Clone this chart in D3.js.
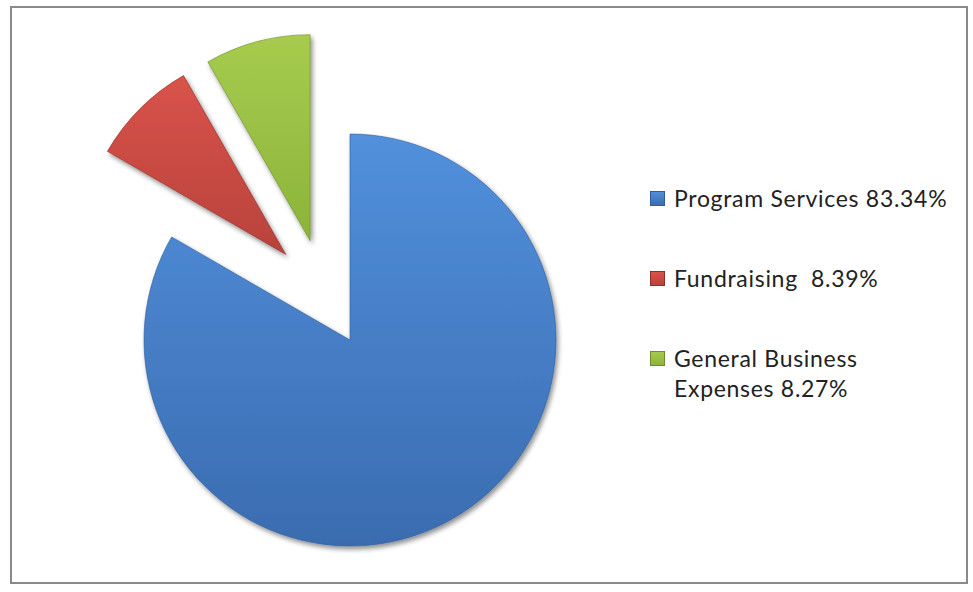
<!DOCTYPE html>
<html>
<head>
<meta charset="utf-8">
<script src="https://cdn.jsdelivr.net/npm/d3@7"></script>
<style>
  html, body { margin: 0; padding: 0; background: #fff; }
  svg { display: block; }
</style>
</head>
<body>
<svg id="chart" width="973" height="592"></svg>
<script>
const categories = ["Program Services", "Fundraising", "General Business Expenses"];
const legendLabels = [["Program Services 83.34%"], ["Fundraising  8.39%"], ["General Business", "Expenses 8.27%"]];
const values = [83.34, 8.39, 8.27];
const exploded = [false, true, true];

const colorsTop = ["#5290dc", "#d9534a", "#a6cb4e"];
const colorsBot = ["#3a6cb0", "#b8423c", "#8cb43a"];
const strokes   = ["#2f5d99", "#8e2f2b", "#6d8d2c"];
const explodeAdjustDeg = [0, 8, -7];

const W = 973, H = 592;
const svg = d3.select("#chart");
const defs = svg.append("defs");

// shadow
const f = defs.append("filter").attr("id", "shadow").attr("x", "-10%").attr("y", "-10%").attr("width", "130%").attr("height", "130%");
f.append("feGaussianBlur").attr("in", "SourceAlpha").attr("stdDeviation", 2.5).attr("result", "b");
f.append("feOffset").attr("in", "b").attr("dx", 1.5).attr("dy", 3).attr("result", "o");
f.append("feComponentTransfer").attr("in", "o").attr("result", "o2")
  .append("feFuncA").attr("type", "linear").attr("slope", 0.45);
const fm = f.append("feMerge");
fm.append("feMergeNode").attr("in", "o2");
fm.append("feMergeNode").attr("in", "SourceGraphic");

categories.forEach((c, i) => {
  const g = defs.append("linearGradient").attr("id", "grad" + i)
    .attr("x1", 0).attr("y1", 0).attr("x2", 0).attr("y2", 1);
  g.append("stop").attr("offset", "0%").attr("stop-color", colorsTop[i]);
  g.append("stop").attr("offset", "100%").attr("stop-color", colorsBot[i]);
});

// frame
svg.append("rect").attr("x", 11).attr("y", 7).attr("width", 956).attr("height", 576)
  .attr("fill", "#fff").attr("stroke", "#898989").attr("stroke-width", 2);

const cx = 350, cy = 340, R = 206;
const explodeDist = 107;

const pie = d3.pie().sort(null).value(d => d)(values);
const arc = d3.arc().innerRadius(0).outerRadius(R);

const g = svg.append("g").attr("transform", `translate(${cx},${cy})`);

g.selectAll("path.slice").data(pie).join("path")
  .attr("class", "slice")
  .attr("d", arc)
  .attr("transform", (d, i) => {
    if (!exploded[i]) return null;
    const mid = (d.startAngle + d.endAngle) / 2 + explodeAdjustDeg[i] * Math.PI / 180;
    return `translate(${Math.sin(mid) * explodeDist},${-Math.cos(mid) * explodeDist})`;
  })
  .attr("fill", (d, i) => `url(#grad${i})`)
  .attr("stroke", (d, i) => strokes[i])
  .attr("stroke-width", 1)
  .attr("stroke-opacity", 0.6)
  .attr("filter", "url(#shadow)");

// legend
const legend = svg.append("g");
const lx = 650, ly0 = 207, step = 80, lineH = 30;
legendLabels.forEach((lines, i) => {
  const y = ly0 + i * step;
  legend.append("rect").attr("x", lx + 0.5).attr("y", y - 15.5).attr("width", 14).attr("height", 14)
    .attr("fill", `url(#grad${i})`).attr("stroke", strokes[i]).attr("stroke-width", 1);
  const t = legend.append("text").attr("x", lx + 24).attr("y", y)
    .attr("font-family", "Lato, 'Open Sans', sans-serif").attr("font-size", 23)
    .attr("letter-spacing", 0.7).attr("fill", "#222");
  lines.forEach((ln, j) => {
    t.append("tspan").attr("x", lx + 24).attr("y", y + j * lineH).style("white-space", "pre").text(ln);
  });
});
</script>
</body>
</html>
